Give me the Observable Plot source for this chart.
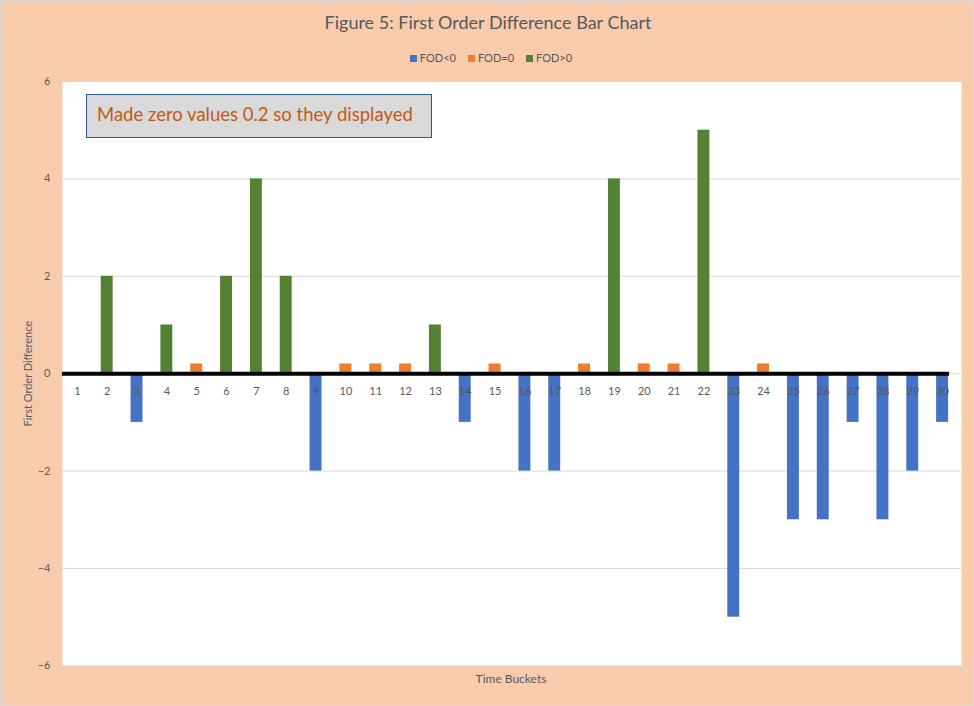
<!DOCTYPE html>
<html>
<head>
<meta charset="utf-8">
<script src="https://cdn.jsdelivr.net/npm/d3@7"></script>
<script src="https://cdn.jsdelivr.net/npm/@observablehq/plot@0.6"></script>
<style>
  html, body { margin: 0; padding: 0; background: #fff; }
  #wrap { position: relative; width: 974px; height: 706px; background: #F8CBAD; box-sizing: border-box; border: 1px solid #d9d9d9; font-family: Lato, "Open Sans", sans-serif; overflow: hidden; }
  #title { position: absolute; left: 0; top: 10px; width: 974px; text-align: center; font-size: 18px; color: #595959; }
  #legend { position: absolute; left: 3px; top: 50px; width: 974px; text-align: center; font-size: 11px; color: #595959; }
  #legend span.item { display: inline-block; margin: 0 6px; }
  #legend span.sw { display: inline-block; width: 7px; height: 7px; margin-right: 3px; vertical-align: 0px; }
  #chart { position: absolute; left: -1px; top: 68px; }
  #note { position: absolute; left: 85px; top: 93px; width: 346px; height: 44px; box-sizing: border-box; background: #D9D9D9; border: 1px solid #2F5597; color: #C55A11; font-size: 18.5px; padding-left: 10px; line-height: 38px; }
  #xlabel { position: absolute; left: 60px; width: 900px; top: 670px; text-align: center; font-size: 12px; color: #595959; }
</style>
</head>
<body>
<div id="wrap">
  <div id="title">Figure 5: First Order Difference Bar Chart</div>
  <div id="legend"></div>
  <div id="chart"></div>
  <div id="note">Made zero values 0.2 so they displayed</div>
  <div id="xlabel">Time Buckets</div>
</div>
<script>
const buckets = ["1","2","3","4","5","6","7","8","9","10","11","12","13","14","15","16","17","18","19","20","21","22","23","24","25","26","27","28","29","30"];
const values  = [null, 2, -1, 1, 0.2, 2, 4, 2, -2, 0.2, 0.2, 0.2, 1, -1, 0.2, -2, -2, 0.2, 4, 0.2, 0.2, 5, -5, 0.2, -3, -3, -1, -3, -2, -1];
const series  = ["", "FOD>0", "FOD<0", "FOD>0", "FOD=0", "FOD>0", "FOD>0", "FOD>0", "FOD<0", "FOD=0", "FOD=0", "FOD=0", "FOD>0", "FOD<0", "FOD=0", "FOD<0", "FOD<0", "FOD=0", "FOD>0", "FOD=0", "FOD=0", "FOD>0", "FOD<0", "FOD=0", "FOD<0", "FOD<0", "FOD<0", "FOD<0", "FOD<0", "FOD<0"];
const seriesNames = ["FOD<0", "FOD=0", "FOD>0"];
const seriesColors = ["#4472C4", "#ED7D31", "#548235"];
const yTicks = [-6, -4, -2, 0, 2, 4, 6];

const data = buckets.map((b, i) => ({bucket: b, value: values[i], series: series[i]})).filter(d => d.value != null);

// legend
const leg = document.getElementById("legend");
seriesNames.forEach((s, i) => {
  const it = document.createElement("span");
  it.className = "item";
  it.innerHTML = `<span class="sw" style="background:${seriesColors[i]}"></span>${s.replace("<","&lt;").replace(">","&gt;")}`;
  leg.appendChild(it);
});

const chart = Plot.plot({
  width: 974,
  height: 638,
  marginLeft: 62,
  marginRight: 16,
  marginTop: 12,
  marginBottom: 41,
  style: {background: "transparent", fontFamily: "Lato, 'Open Sans', sans-serif", fontSize: "11px", color: "#595959"},
  x: {domain: buckets, paddingInner: 0.6, paddingOuter: 0.3, round: false, axis: null},
  y: {domain: [-6, 6], ticks: yTicks, label: null},
  color: {domain: seriesNames, range: seriesColors},
  marks: [
    Plot.frame({fill: "white", stroke: null, insetRight: -4}),
    Plot.gridY(yTicks, {stroke: "#d9d9d9", strokeOpacity: 1, insetRight: -4}),
    Plot.axisY(yTicks, {tickSize: 0, tickPadding: 12, fill: "#595959", fontSize: 11, label: "First Order Difference", labelAnchor: "center", labelOffset: 38, labelArrow: "none"}),
    Plot.barY(data, {x: "bucket", y: "value", fill: "series"}),
    Plot.ruleY([0], {stroke: "black", strokeWidth: 4, insetRight: 8}),
    Plot.text(buckets, {x: d => d, y: 0, dy: 18, fill: "#595959", fontSize: 11})
  ]
});
document.getElementById("chart").appendChild(chart);
</script>
</body>
</html>
